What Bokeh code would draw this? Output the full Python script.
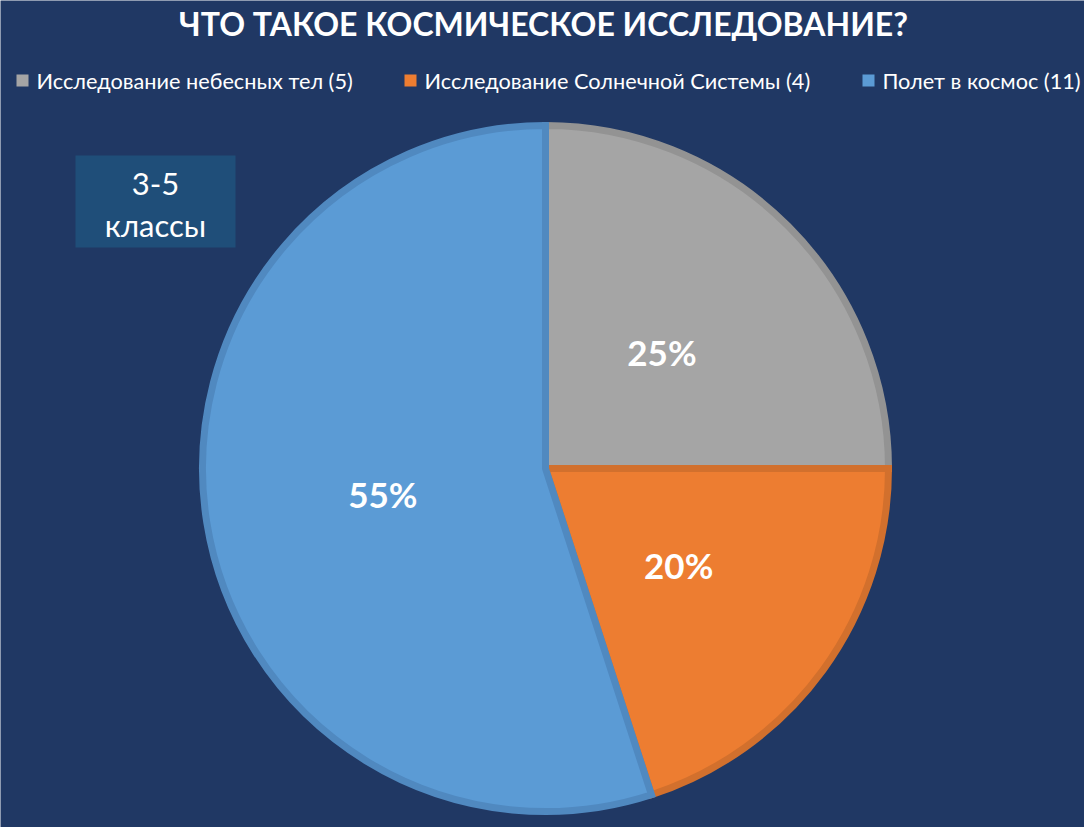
import math
from bokeh.plotting import figure
from bokeh.models import Range1d, ColumnDataSource
from bokeh.core.properties import value
from bokeh.embed import file_html
from bokeh.resources import INLINE

title = "ЧТО ТАКОЕ КОСМИЧЕСКОЕ ИССЛЕДОВАНИЕ?"
categories = ["Исследование небесных тел", "Исследование Солнечной Системы", "Полет в космос"]
counts = [5, 4, 11]
colors = ["#A5A5A5", "#ED7D31", "#5B9BD5"]
borders = ["#939393", "#D2702D", "#5089C0"]
note = "3-5\nклассы"

BG = "#203864"
FONT = "Lato"

W, H = 1084, 827
p = figure(width=W, height=H, output_backend="svg", toolbar_location=None,
           x_range=Range1d(0, W), y_range=Range1d(-H, 0),
           background_fill_color=BG, border_fill_color=BG,
           min_border=0, outline_line_color=None)
p.axis.visible = False
p.grid.visible = False

# pie
cx, cy, r = 545, -468, 343
total = sum(counts)
cum = 0
starts, ends, mids = [], [], []
for c in counts:
    end = 90 - cum * 360 / total
    cum += c
    start = 90 - cum * 360 / total
    starts.append(math.radians(start))
    ends.append(math.radians(end))
    mids.append(math.radians((start + end) / 2))

src = ColumnDataSource(dict(start=starts, end=ends, fill=colors, line=borders))
p.wedge(x=cx, y=cy, radius=r, start_angle="start", end_angle="end",
        fill_color="fill", line_color="line", line_width=7, line_join="miter", source=src)

# percent labels
pct = [f"{round(100 * c / total)}%" for c in counts]
lx = [cx + 0.48 * r * math.cos(m) for m in mids]
ly = [cy + 0.48 * r * math.sin(m) for m in mids]
p.text(x=lx, y=ly, text=pct, text_color="white", text_font=value(FONT),
       text_font_style="bold", text_font_size="35px", text_align="center", text_baseline="middle")

# title
p.text(x=[543], y=[-23], text=[title], text_color="white", text_font=value(FONT),
       text_font_style="bold", text_font_size="32px", text_align="center", text_baseline="middle")

# legend
leg_labels = [f"{c} ({n})" for c, n in zip(categories, counts)]
sq_x = [22, 410, 868]
p.rect(x=sq_x, y=[-80] * 3, width=12, height=12, fill_color=colors, line_color=None)
p.text(x=[x + 14 for x in sq_x], y=[-80] * 3, text=leg_labels, text_color="white",
       text_font=value(FONT), text_font_size="21.7px", text_align="left", text_baseline="middle")

# note box
p.quad(left=75, right=235, top=-155, bottom=-247, fill_color="#1F4E79", line_color=None)
p.text(x=[155, 155], y=[-183, -224], text=note.split("\n"), text_color="white",
       text_font=value(FONT), text_font_size="31px", text_align="center", text_baseline="middle")

open("out.html", "w").write(file_html(p, INLINE))
